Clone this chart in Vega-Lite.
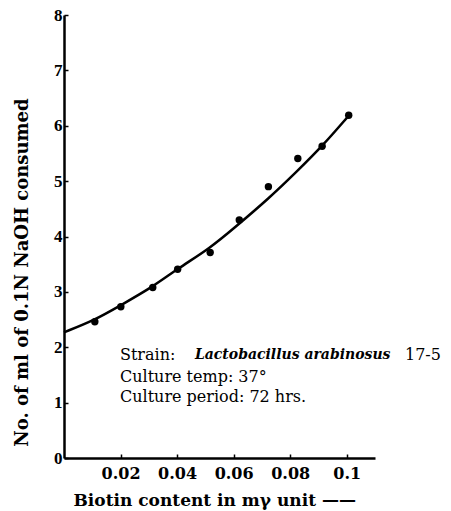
{
  "$schema": "https://vega.github.io/schema/vega-lite/v6.json",
  "width": 311,
  "height": 443,
  "autosize": {"type": "none"},
  "padding": {"left": 64, "top": 15, "right": 76, "bottom": 53},
  "background": "white",
  "config": {
    "view": {"stroke": null},
    "font": "DejaVu Serif"
  },
  "datasets": {
    "points": [
      {"biotin": 0.0109, "naoh": 2.46},
      {"biotin": 0.0201, "naoh": 2.73},
      {"biotin": 0.0314, "naoh": 3.08},
      {"biotin": 0.0402, "naoh": 3.41},
      {"biotin": 0.0517, "naoh": 3.71},
      {"biotin": 0.062, "naoh": 4.3},
      {"biotin": 0.0723, "naoh": 4.9},
      {"biotin": 0.0827, "naoh": 5.41},
      {"biotin": 0.0913, "naoh": 5.63},
      {"biotin": 0.1007, "naoh": 6.19}
    ],
    "curve": [
      {"biotin": 0.0, "naoh": 2.27},
      {"biotin": 0.0109, "naoh": 2.49},
      {"biotin": 0.0201, "naoh": 2.76},
      {"biotin": 0.0314, "naoh": 3.09},
      {"biotin": 0.0402, "naoh": 3.42},
      {"biotin": 0.0517, "naoh": 3.79},
      {"biotin": 0.0608, "naoh": 4.18},
      {"biotin": 0.0723, "naoh": 4.68},
      {"biotin": 0.0827, "naoh": 5.19},
      {"biotin": 0.0915, "naoh": 5.64},
      {"biotin": 0.1005, "naoh": 6.17}
    ],
    "notes": [
      {"biotin": 0.0198, "naoh": 1.86, "label": "Strain:", "kind": "plain"},
      {"biotin": 0.0463, "naoh": 1.86, "label": "Lactobacillus arabinosus", "kind": "italic"},
      {"biotin": 0.1206, "naoh": 1.86, "label": "17-5", "kind": "plain"},
      {"biotin": 0.0198, "naoh": 1.46, "label": "Culture temp: 37°", "kind": "plain"},
      {"biotin": 0.0198, "naoh": 1.1, "label": "Culture period: 72 hrs.", "kind": "plain"}
    ]
  },
  "layer": [
    {
      "data": {"name": "curve"},
      "mark": {"type": "line", "interpolate": "basis", "color": "black", "strokeWidth": 2.5},
      "encoding": {
        "x": {
          "field": "biotin",
          "type": "quantitative",
          "scale": {"domain": [0, 0.11], "nice": false},
          "axis": {
            "title": "Biotin content in mγ unit ——",
            "titleFont": "DejaVu Serif",
            "titleFontSize": 17,
            "titleFontWeight": "bold",
            "titleColor": "black",
            "titleX": 9,
            "titleY": 42,
            "titleAlign": "left",
            "titleBaseline": "middle",
            "values": [0.02, 0.04, 0.06, 0.08, 0.1],
            "format": ".2~f",
            "labelOverlap": false,
            "labelFont": "DejaVu Serif",
            "labelFontSize": 16,
            "labelFontWeight": "bold",
            "labelColor": "black",
            "labelPadding": 11,
            "grid": false,
            "domainColor": "black",
            "domainWidth": 2.5,
            "tickColor": "black",
            "tickWidth": 1.5,
            "tickSize": -4
          }
        },
        "y": {
          "field": "naoh",
          "type": "quantitative",
          "scale": {"domain": [0, 8], "nice": false},
          "axis": {
            "title": "No. of ml of 0.1N NaOH consumed",
            "titleFont": "DejaVu Serif",
            "titleFontSize": 18,
            "titleFontWeight": "bold",
            "titleColor": "black",
            "titleX": -42,
            "titleY": 257,
            "titleAngle": -90,
            "titleAlign": "center",
            "titleBaseline": "middle",
            "values": [0, 1, 2, 3, 4, 5, 6, 7, 8],
            "format": "d",
            "labelOverlap": false,
            "labelFont": "Liberation Serif",
            "labelFontSize": 17,
            "labelFontWeight": "bold",
            "labelColor": "black",
            "labelPadding": 6,
            "grid": false,
            "domainColor": "black",
            "domainWidth": 2.5,
            "tickColor": "black",
            "tickWidth": 1.5,
            "tickSize": -4
          }
        }
      }
    },
    {
      "data": {"name": "points"},
      "mark": {"type": "circle", "color": "black", "opacity": 1, "size": 55},
      "encoding": {
        "x": {"field": "biotin", "type": "quantitative"},
        "y": {"field": "naoh", "type": "quantitative"}
      }
    },
    {
      "data": {"name": "notes"},
      "transform": [{"filter": "datum.kind === 'plain'"}],
      "mark": {"type": "text", "align": "left", "baseline": "middle", "font": "DejaVu Serif", "fontSize": 16, "color": "black"},
      "encoding": {
        "x": {"field": "biotin", "type": "quantitative"},
        "y": {"field": "naoh", "type": "quantitative"},
        "text": {"field": "label"}
      }
    },
    {
      "data": {"name": "notes"},
      "transform": [{"filter": "datum.kind === 'italic'"}],
      "mark": {"type": "text", "align": "left", "baseline": "middle", "font": "DejaVu Serif", "fontSize": 14, "fontStyle": "italic", "fontWeight": "bold", "color": "black"},
      "encoding": {
        "x": {"field": "biotin", "type": "quantitative"},
        "y": {"field": "naoh", "type": "quantitative"},
        "text": {"field": "label"}
      }
    }
  ]
}
